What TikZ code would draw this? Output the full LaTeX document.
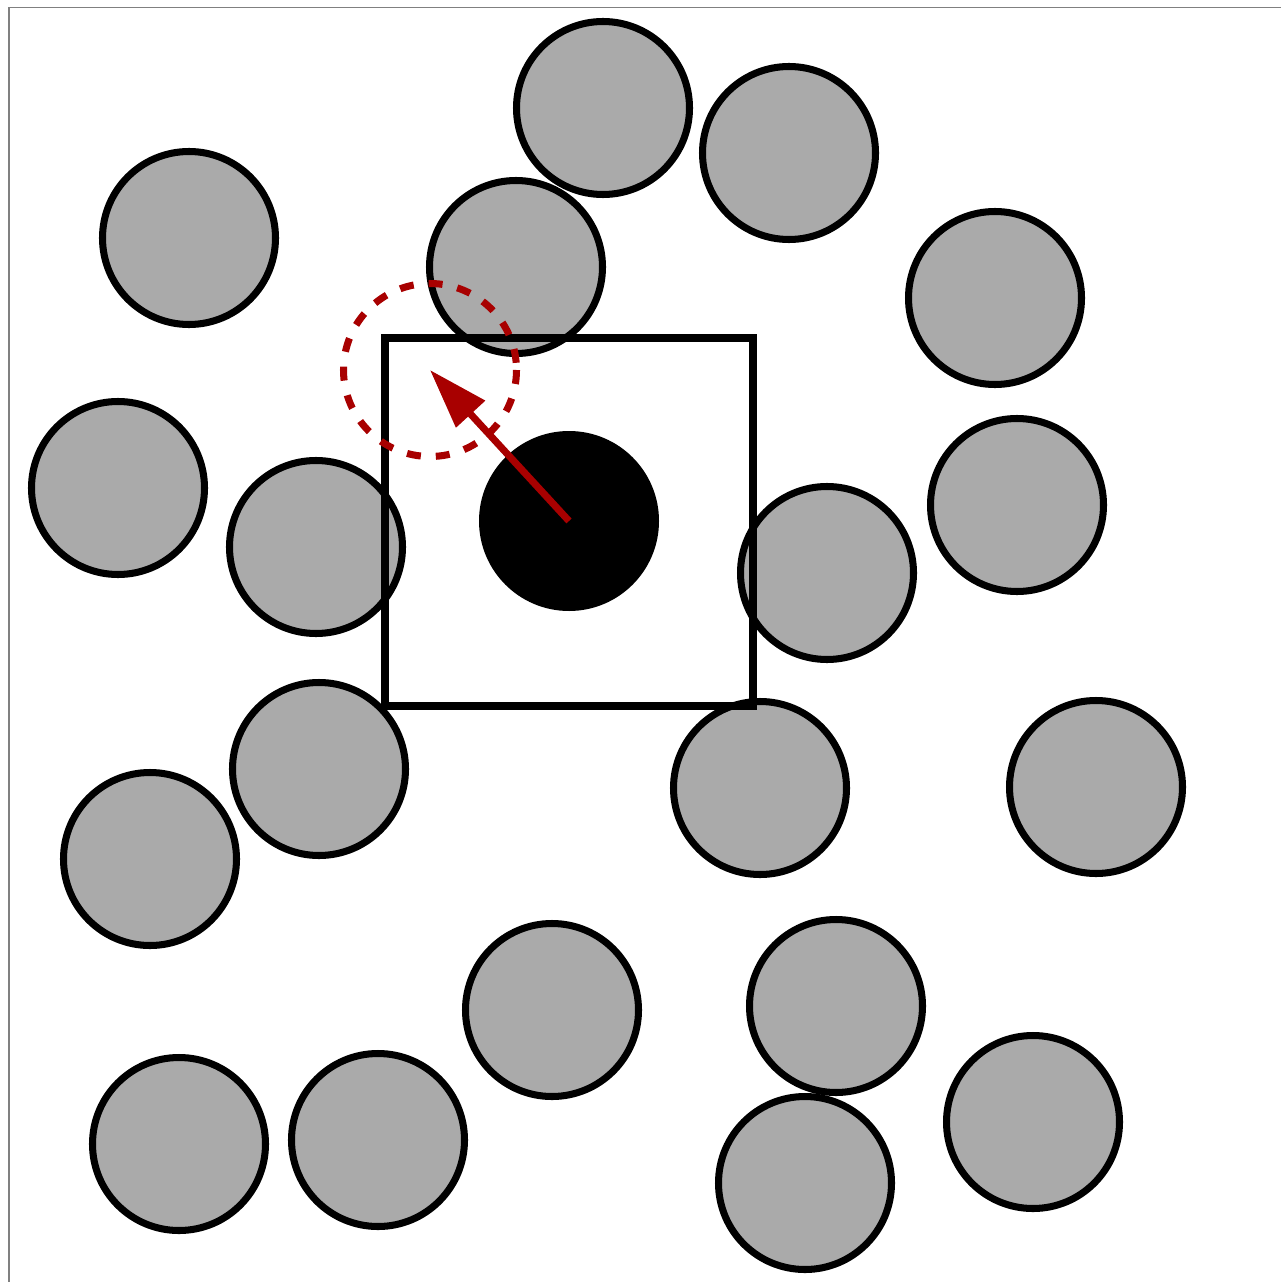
\documentclass[tikz,border=0pt]{standalone}
\usepackage{tikz}
\usetikzlibrary{arrows.meta}
\definecolor{hopred}{RGB}{168,0,0}
\definecolor{grain}{RGB}{170,170,170}

\begin{document}
\begin{tikzpicture}[x=0.01cm, y=-0.01cm,
    particle/.style={draw=black, fill=grain, line width=2pt},
    cell/.style={draw=black, line width=2pt},
    hop/.style={hopred, line width=2pt}]
    \useasboundingbox (0,0) rectangle (1281,1282);
    % Frame, only two sides show.
        \draw[gray, line width=0.4pt] (9,1282) -- (9,7.5) -- (1281,7.5);
    % Below are the neighbour particles.
        \draw[particle] (603,108) circle (86.5);
        \draw[particle] (789,153) circle (86.5);
        \draw[particle] (189,238) circle (86.5);
        \draw[particle] (516,267) circle (86.5);
        \draw[particle] (995,298) circle (86.5);
        \draw[particle] (118,488) circle (86.5);
        \draw[particle] (316,547) circle (86.5);
        \draw[particle] (1017,505) circle (86.5);
        \draw[particle] (827,573) circle (86.5);
        \draw[particle] (319,769) circle (86.5);
        \draw[particle] (760,788) circle (86.5);
        \draw[particle] (1096,787) circle (86.5);
        \draw[particle] (150,859) circle (86.5);
        \draw[particle] (552,1010) circle (86.5);
        \draw[particle] (836,1006) circle (86.5);
        \draw[particle] (179,1144) circle (86.5);
        \draw[particle] (378,1140) circle (86.5);
        \draw[particle] (805,1183) circle (86.5);
        \draw[particle] (1033,1122) circle (86.5);
    % The cell round the moving particle.
        \draw[cell] (385,338) rectangle (753,706);
    % The moving particle and its trial position.
        \fill[black] (569,521) circle (90);
        \draw[hop, dash pattern=on 0.14cm off 0.15cm] (430,370) circle (86.5);
        \draw[hop, -{Triangle[length=0.6cm, width=0.38cm]}] (569,521) -- (430,370);
\end{tikzpicture}
\end{document}
